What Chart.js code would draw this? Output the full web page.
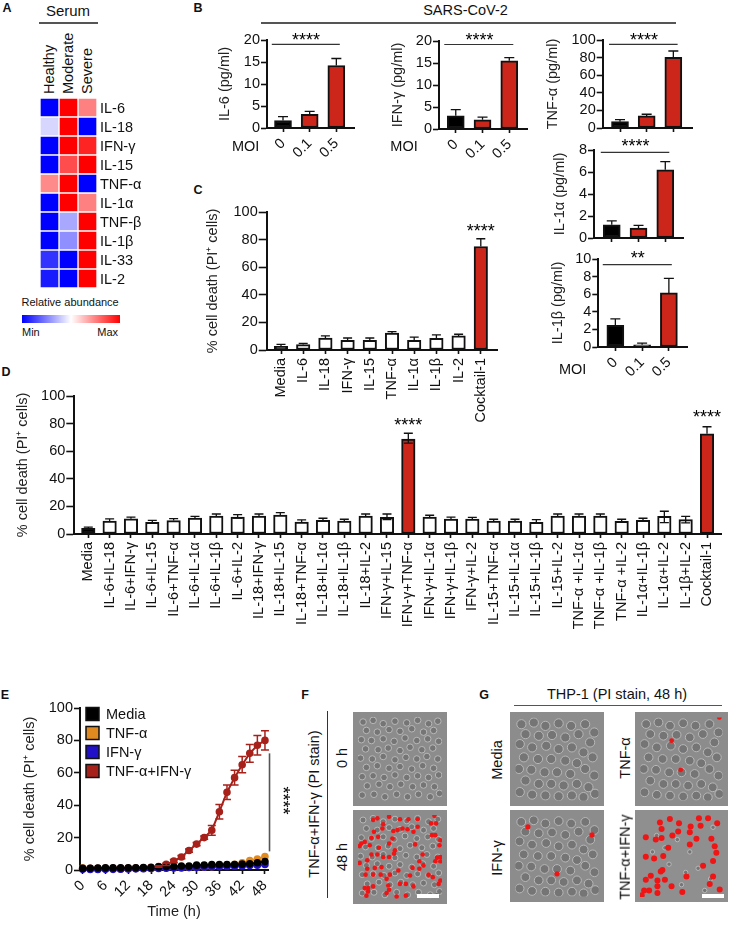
<!DOCTYPE html>
<html><head><meta charset="utf-8">
<script src="https://cdn.jsdelivr.net/npm/chart.js@4"></script>
<style>
html,body{margin:0;padding:0;background:#fff;width:737px;height:928px;overflow:hidden;font-family:"Liberation Sans",Arial,sans-serif;color:#111}
#stage{position:relative;width:737px;height:928px}
canvas{position:absolute;display:block}
.t{position:absolute;white-space:nowrap;line-height:1;font-size:14.5px}
.rule{position:absolute;background:#555}
</style></head><body><div id="stage"></div>
<script>
// ---------- DATA ----------
const heatColumns=['Healthy','Moderate','Severe'];
const heatRows=['IL-6','IL-18','IFN-γ','IL-15','TNF-α','IL-1α','TNF-β','IL-1β','IL-33','IL-2'];
const heatHealthy=[0,0.42,0,0,0.73,0,0,0,0.1,0.05];
const heatModerate=[1,1,1,0.85,1,1,0.33,0.28,0,0];
const heatSevere=[0.75,0,0.93,1,0,0.75,1,1,1,1];

const moi=['0','0.1','0.5'];
const il6Val=[1.7,3.1,14.2], il6Hi=[2.6,3.8,15.8];
const ifnVal=[3.0,2.1,15.5], ifnHi=[4.4,2.7,16.2];
const tnfVal=[7.2,13.7,80.2], tnfHi=[9.5,15.6,87.5];
const il1aVal=[1.2,0.9,6.2], il1aHi=[1.55,1.15,6.95];
const il1bVal=[2.45,0.25,6.15], il1bHi=[3.2,0.45,7.8];

const cLabels=['Media','IL-6','IL-18','IFN-γ','IL-15','TNF-α','IL-1α','IL-1β','IL-2','Cocktail-1'];
const cVal=[2.7,3.9,8.7,7,7,12.3,7,8.5,10.2,75];
const cHi=[4.1,4.8,10.2,8.7,8.7,13.3,9.4,10.9,11.4,80.6];

const dLabels=['Media','IL-6+IL-18','IL-6+IFN-γ','IL-6+IL-15','IL-6+TNF-α','IL-6+IL-1α','IL-6+IL-1β','IL-6+IL-2','IL-18+IFN-γ','IL-18+IL-15','IL-18+TNF-α','IL-18+IL-1α','IL-18+IL-1β','IL-18+IL-2','IFN-γ+IL-15','IFN-γ+TNF-α','IFN-γ+IL-1α','IFN-γ+IL-1β','IFN-γ+IL-2','IL-15+TNF-α','IL-15+IL-1α','IL-15+IL-1β','IL-15+IL-2','TNF-α +IL-1α','TNF-α +IL-1β','TNF-α +IL-2','IL-1α+IL-1β','IL-1α+IL-2','IL-1β+IL-2','Cocktail-1'];
const dVal=[4.1,9.4,11,8.5,9.7,11.6,13,12.3,13,13.8,8.7,9.9,9.4,13,12.1,68.8,12.3,10.9,10.9,9.4,9.4,8.5,13,13,13,9.2,9.9,12.8,10.4,72.6];
const dHi=[5,10.9,12.3,9.9,11.1,12.8,14.5,14,14.5,15.5,10.2,11.4,10.7,14.5,14.5,73,13.6,12.3,12.1,10.7,10.7,10.4,14.5,14.5,14.5,10.7,11.4,16.5,12.8,77.7];
const dLo=[4.1,9.4,11,8.5,9.7,11.6,13,11.5,13,13.8,8.7,9.9,9.4,13,10.5,65.8,12.3,10.9,10.9,9.4,9.4,8.5,13,13,13,9.2,9.9,8.2,8,72.6];

const hours=[0,2,4,6,8,10,12,14,16,18,20,22,24,26,28,30,32,34,36,38,40,42,44,46,48];
const hourTicks=[0,6,12,18,24,30,36,42,48];
const eMedia=[1,1.1,1.2,1.3,1.3,1.3,1.4,1.4,1.5,1.5,1.9,2.1,2.2,2.5,2.4,3,3.1,3.3,3.4,3.4,3.4,3.6,3.8,4.5,5.2];
const eTnf=[1.2,0.8,0.6,0.7,0.6,0.6,1,1,1,1,1.2,1.3,1.5,1.5,1.5,1.6,1.8,2,2.5,3,3.5,4.5,5.8,6.8,8.3];
const eIfn=[0.4,0.3,0.3,0.4,0.4,0.5,0.6,0.7,0.8,0.9,1,1.1,1.2,1.3,1.5,1.6,1.8,2,2.1,2.2,2.3,2.5,2.8,3,3.4];
const eBoth=[1,1,1,1,1,1,1,1.2,1.4,1.7,2.2,3.5,5.5,8,12,16,20,24.5,36,48,57,65,72,77,80];
const eBothErr=[0,0,0,0,0,0,0,0,0,0,0.5,0.7,1,1,1,1,1,3,4.5,4.5,4.5,5,5.5,6,6];

// micrograph marks (percent of image width / height)
const cellsF=[[6,6],[18,4],[30,8],[44,5],[58,7],[71,4],[84,8],[95,5],[10,16],[23,18],[37,15],[50,17],[64,14],[78,18],[90,16],[4,27],[16,28],[30,26],[43,29],[56,25],[70,28],[83,26],[96,29],[9,38],[24,39],[36,37],[50,40],[62,36],[76,39],[89,37],[3,49],[17,50],[30,47],[44,51],[57,48],[70,50],[82,47],[95,50],[10,60],[23,58],[37,61],[50,59],[64,62],[77,58],[90,61],[5,71],[18,70],[31,72],[44,69],[58,72],[71,70],[84,72],[96,69],[11,82],[25,80],[38,83],[51,80],[65,83],[78,81],[91,83],[5,93],[19,92],[32,95],[46,92],[59,95],[72,92],[86,95],[97,91]];
const cellsG=[[7,8],[22,6],[36,10],[52,7],[67,10],[84,8],[95,18],[12,20],[28,22],[44,21],[60,24],[76,20],[90,30],[5,32],[20,36],[37,34],[52,38],[68,36],[82,42],[10,48],[27,50],[43,50],[60,52],[74,55],[93,48],[4,62],[19,63],[35,66],[50,66],[66,68],[84,62],[95,70],[12,76],[28,80],[43,80],[58,82],[74,80],[88,84],[5,90],[20,93],[36,94],[52,95],[68,94],[82,96],[96,92]];
const cellsG4=[[20,25],[45,30],[60,45],[35,60],[70,65],[50,85],[78,92],[88,15],[15,45],[30,40],[55,70],[85,78]];
const redF48=[[23,4],[18,6],[37,2],[50,5],[60,5],[71,5],[91,1],[87,10],[93,10],[30,11],[29,16],[71,14],[19,20],[24,26],[42,19],[47,18],[53,16],[59,17],[66,20],[16,27],[8,32],[4,34],[2,37],[14,36],[37,34],[41,28],[68,35],[97,36],[88,24],[92,24],[98,30],[25,39],[44,42],[43,46],[23,47],[37,50],[16,47],[30,50],[2,57],[11,54],[77,47],[73,55],[94,51],[98,50],[92,55],[98,55],[20,63],[28,62],[11,64],[48,66],[65,63],[78,60],[73,64],[9,71],[18,71],[27,71],[38,71],[62,72],[84,71],[89,74],[98,78],[96,82],[34,76],[8,87],[12,87],[18,85],[36,84],[37,89],[57,82],[66,85],[50,82],[12,91],[57,96],[94,96],[10,96],[46,97],[34,93]];
const redG2=[[96,0],[38,28],[49,63]];
const redG3=[[15,14],[92,24],[50,72]];
const redG4=[[36,5],[47,10],[24,9],[71,4],[82,4],[93,10],[61,14],[73,13],[26,17],[46,20],[60,21],[39,25],[7,27],[26,28],[19,30],[68,29],[86,29],[60,36],[90,38],[34,40],[92,46],[7,51],[17,53],[28,50],[88,56],[76,62],[27,67],[25,69],[13,74],[56,75],[88,75],[7,79],[21,80],[30,79],[21,87],[84,84],[38,87],[5,92],[11,92],[21,95],[51,94],[2,98],[96,91]];

// ---------- HELPERS ----------
const FONT='"Liberation Sans", Arial, sans-serif';
Chart.defaults.font.family=FONT;
Chart.defaults.font.size=14.5;
Chart.defaults.color='#111';
Chart.defaults.animation=false;
const stage=document.getElementById('stage');
const RED='#cb2619';

function txt(s,x,y,o={}){
  const e=document.createElement('div');e.className='t';e.textContent=s;
  e.style.left=x+'px';e.style.top=y+'px';
  const ax=o.left?'0':o.right?'-100%':'-50%';
  e.style.transform=`translate(${ax},-50%)`+(o.rot?` rotate(${o.rot}deg)`:'');
  if(o.size)e.style.fontSize=o.size+'px';
  if(o.bold)e.style.fontWeight='bold';
  if(o.color)e.style.color=o.color;
  stage.appendChild(e);return e;
}
function rule(x0,y0,x1,y1,w=1.5){
  const e=document.createElement('div');e.className='rule';
  e.style.left=x0+'px';e.style.top=(y0-w/2)+'px';e.style.width=(x1-x0)+'px';e.style.height=(y1-y0+w)+'px';
  stage.appendChild(e);
}
function mount(box,m,cfg){
  const c=document.createElement('canvas');
  const w=Math.round(box.r-box.l+m.l+m.r),h=Math.round(box.b-box.t+m.t+m.b);
  c.width=w;c.height=h;c.style.left=(box.l-m.l)+'px';c.style.top=(box.t-m.t)+'px';
  c.style.width=w+'px';c.style.height=h+'px';
  stage.appendChild(c);
  cfg.options=cfg.options||{};
  cfg.options.responsive=false;cfg.options.maintainAspectRatio=false;cfg.options.devicePixelRatio=1;
  cfg.options.layout={padding:{top:m.t,right:m.padR??m.r,left:0,bottom:0}};
  return new Chart(c,cfg);
}
const fixX=(h)=>(s)=>{s.height=h;s.paddingLeft=s.paddingRight=s.paddingTop=s.paddingBottom=0;};
const fixY=(w)=>(s)=>{s.width=w;s.paddingLeft=s.paddingRight=s.paddingTop=s.paddingBottom=0;};

const annot={id:'annot',afterDatasetsDraw(ch,a,o){
  const ctx=ch.ctx,X=ch.scales.x,Y=ch.scales.y;ctx.save();
  ch.data.datasets.forEach((d)=>{
    if(!d.errHi)return;
    d.errHi.forEach((hi,i)=>{
      const v=d.vals[i],lo=d.errLo?d.errLo[i]:v;
      if(hi<=v&&lo>=v)return;
      const x=X.getPixelForValue(d.data[i].x);
      const yh=Y.getPixelForValue(hi),yl=Y.getPixelForValue(lo),cap=d.cap||5;
      ctx.strokeStyle=d.errColor||'#111';ctx.lineWidth=d.errWidth||1.3;ctx.beginPath();
      ctx.moveTo(x,yl);ctx.lineTo(x,yh);
      ctx.moveTo(x-cap,yh);ctx.lineTo(x+cap,yh);
      if(lo<v){ctx.moveTo(x-cap,yl);ctx.lineTo(x+cap,yl);}
      ctx.stroke();
    });
  });
  (o.lines||[]).forEach(l=>{
    ctx.strokeStyle=l.color||'#333';ctx.lineWidth=l.w||1.2;ctx.beginPath();
    ctx.moveTo(X.getPixelForValue(l.x0),Y.getPixelForValue(l.y0));
    ctx.lineTo(X.getPixelForValue(l.x1),Y.getPixelForValue(l.y1));ctx.stroke();
  });
  (o.stars||[]).forEach(s=>{
    ctx.save();ctx.translate(X.getPixelForValue(s.x),Y.getPixelForValue(s.y));
    if(s.rot)ctx.rotate(s.rot);
    ctx.fillStyle='#000';ctx.font='18px '+FONT;ctx.textAlign='center';ctx.textBaseline='middle';
    ctx.fillText(s.text,0,4);ctx.restore();
  });
  ctx.restore();
}};
const keyPlugin={id:'keyBox',afterDraw(ch,a,o){
  if(!o.items)return;
  const ctx=ch.ctx,L=ch.chartArea.left+o.dx,T=ch.chartArea.top+o.dy;ctx.save();
  o.items.forEach((it,i)=>{
    const y=T+i*o.pitch;
    ctx.fillStyle=it.color;ctx.strokeStyle='#111';ctx.lineWidth=1.5;
    ctx.fillRect(L,y,o.size,o.size);ctx.strokeRect(L,y,o.size,o.size);
    ctx.fillStyle='#111';ctx.font='14.5px '+FONT;ctx.textBaseline='middle';ctx.textAlign='left';
    ctx.fillText(it.label,L+o.size+7,y+o.size/2+0.5);
  });ctx.restore();
}};
const photoBg={id:'photoBg',beforeDraw(ch,a,o){
  if(!o.color)return;ch.ctx.save();ch.ctx.fillStyle=o.color;ch.ctx.fillRect(0,0,ch.width,ch.height);ch.ctx.restore();
}};
Chart.register(annot,keyPlugin,photoBg);

function yAxis(max,step,title,tw,titlePad,tl){
  return {type:'linear',min:0,max,position:'left',afterFit:fixY(tw),
    ticks:{stepSize:step,padding:1,color:'#111',font:{size:14.5},autoSkip:false},
    grid:{drawOnChartArea:false,drawTicks:true,tickLength:tl||6,tickColor:'#111',tickWidth:1.6},
    border:{color:'#111',width:2},
    title:{display:true,text:title,color:'#222',font:{size:14.5},padding:{top:titlePad,bottom:0}}};
}
function barChart(box,spacing,firstCenter,labels,vals,hi,lo,colors,o){
  const ml=box.l-o.titleX+12,mb=o.mb;
  const xmin=(box.l-firstCenter)/spacing,xmax=(box.r-firstCenter)/spacing;
  return mount(box,{l:ml,t:o.mt||22,r:o.mr||4,b:mb},{type:'bar',
    data:{datasets:[{data:vals.map((v,i)=>({x:i,y:v})),vals,errHi:hi,errLo:lo,cap:o.cap||5,
      backgroundColor:colors,borderColor:'#111',borderWidth:2,barThickness:o.bw,borderSkipped:false}]},
    options:{
      scales:{
        x:{type:'linear',offset:false,min:xmin,max:xmax,afterFit:fixX(mb),
          afterBuildTicks:(s)=>{s.ticks=labels.map((_,i)=>({value:i}));},
          ticks:{autoSkip:false,minRotation:o.rot,maxRotation:o.rot,padding:o.tickPad??4,color:'#111',font:{size:o.xfont||14.5},
            callback:(v)=>labels[v]},
          grid:{offset:false,drawOnChartArea:false,drawTicks:true,tickLength:4,tickColor:'#111',tickWidth:1.6},
          border:{color:'#111',width:2}},
        y:yAxis(o.max,o.step,o.title,ml,12-8.7,o.tl)
      },
      plugins:{legend:{display:false},tooltip:{enabled:false},annot:{lines:o.lines,stars:o.stars}}
    }});
}
const kkr=['#000',RED,RED];

// ---------- PANEL LETTERS ----------
[['A',7,8],['B',198,8],['C',198,190],['D',6,372],['E',5,695],['F',305,695],['G',484,695]].forEach(p=>txt(p[0],p[1],p[2],{size:12.5,bold:true}));

// ---------- A: HEATMAP ----------
function heatColor(v){
  if(v<0.5){const k=Math.round(v*2*255);return `rgb(${k},${k},255)`;}
  const k=Math.round((1-v)*2*255);return `rgb(255,${k},${k})`;
}
txt('Serum',68,10,{size:15});
rule(39,23,98,23);
mount({l:40,t:97.5,r:97,b:287},{l:0,t:4,r:50,b:0,padR:0},{type:'bar',
  data:{labels:heatRows,datasets:[heatHealthy,heatModerate,heatSevere].map((arr,i)=>({
    label:heatColumns[i],data:arr.map(()=>1),backgroundColor:arr.map(heatColor),
    borderColor:'#fff',borderWidth:1,borderSkipped:false,barPercentage:1,categoryPercentage:1}))},
  options:{indexAxis:'y',
    scales:{
      x:{type:'linear',position:'top',stacked:true,min:0,max:3,afterFit:fixX(0),
        ticks:{display:false},grid:{display:false},border:{display:false}},
      y:{type:'category',position:'right',stacked:true,afterFit:fixY(50),
        ticks:{autoSkip:false,padding:3,labelOffset:1.5,color:'#111',font:{size:14.5}},
        grid:{display:false,tickLength:0},border:{display:false}}
    },
    plugins:{legend:{display:false},tooltip:{enabled:false}}
  }});
heatColumns.forEach((c,i)=>{const e=txt(c,49+i*19,94,{left:true,size:14.5});
  e.style.transformOrigin='0 0';e.style.transform='rotate(-90deg) translateY(-50%)';});
txt('Relative abundance',21.5,302,{left:true,size:11});
const bar=document.createElement('div');
bar.style.cssText='position:absolute;left:22px;top:315px;width:98px;height:8px;background:linear-gradient(90deg,#0000ff,#ffffff 50%,#ff0000)';
stage.appendChild(bar);
txt('Min',22,332,{left:true,size:11});
txt('Max',118,332,{right:true,size:11});

// ---------- B ----------
txt('SARS-CoV-2',465.5,10,{size:14.5});
rule(261,23,676,23);
const bBase={bw:17,rot:45,mb:50,tickPad:3};
barChart({l:267,t:40,r:354,b:128},26.67,283,moi,il6Val,il6Hi,null,kkr,{...bBase,titleX:225,max:20,step:5,title:'IL-6 (pg/ml)',
  lines:[{x0:-0.42,x1:2.13,y0:19,y1:19}],stars:[{x:0.86,y:20.7,text:'****'}]});
barChart({l:439,t:40.7,r:526.7,b:128.7},26.67,455.7,moi,ifnVal,ifnHi,null,kkr,{...bBase,titleX:398,max:20,step:5,title:'IFN-γ (pg/ml)',
  lines:[{x0:-0.43,x1:2.15,y0:19.2,y1:19.2}],stars:[{x:0.89,y:20.8,text:'****'}]});
barChart({l:602.7,t:40,r:692,b:128},26.67,620,moi,tnfVal,tnfHi,null,kkr,{...bBase,mb:6,titleX:553,max:100,step:20,title:'TNF-α (pg/ml)',
  lines:[{x0:-0.41,x1:2.16,y0:95,y1:95}],stars:[{x:0.9,y:103.4,text:'****'}],tickPad:60});
barChart({l:594,t:150,r:682.7,b:237.7},26.67,611.7,moi,il1aVal,il1aHi,null,kkr,{...bBase,mb:6,titleX:560,max:8,step:2,title:'IL-1α (pg/ml)',
  lines:[{x0:-0.41,x1:2.15,y0:7.79,y1:7.79}],stars:[{x:0.89,y:8.6,text:'****'}],tickPad:60});
barChart({l:598.3,t:259.3,r:686.7,b:347.7},26.67,615.3,moi,il1bVal,il1bHi,null,kkr,{...bBase,titleX:558,max:10,step:2,title:'IL-1β (pg/ml)',
  lines:[{x0:-0.47,x1:2.11,y0:9.36,y1:9.36}],stars:[{x:0.84,y:10.4,text:'**'}]});
txt('MOI',245.7,146);txt('MOI',404,146);txt('MOI',572.7,369);

// ---------- C ----------
barChart({l:266.7,t:211.7,r:497,b:349.3},22.2,281,cLabels,cVal,cHi,null,
  cLabels.map((l,i)=>i==0?'#000':i==cLabels.length-1?RED:'#fff'),
  {bw:13.5,rot:90,mb:80,cap:4.5,tl:8,titleX:213,max:100,step:20,title:'% cell death (PI⁺ cells)',tickPad:4,
   stars:[{x:9,y:88.4,text:'****'}]});

// ---------- D ----------
barChart({l:74,t:395.7,r:721,b:533.3},21.345,88,dLabels,dVal,dHi,dLo,
  dLabels.map((l,i)=>i==0?'#000':(i==15||i==29)?RED:'#fff'),
  {bw:13.5,rot:90,mb:100,cap:4.5,tl:8,titleX:22.7,max:100,step:20,title:'% cell death (PI⁺ cells)',tickPad:4,mt:24,mr:8,
   stars:[{x:15,y:81.1,text:'****'},{x:29,y:86.7,text:'****'}]});

// ---------- E ----------
(function(){
  const box={l:80,t:708.3,r:268,b:870},titleX=30,ml=box.l-titleX+12,mb=52;
  const mk=(label,vals,color,order)=>({label,data:vals.map((v,i)=>({x:hours[i],y:v})),vals,
    borderColor:color,backgroundColor:color,pointBackgroundColor:color,pointBorderColor:color,
    pointRadius:2.8,borderWidth:2,order,tension:0,clip:false});
  const both=mk('TNF-α+IFN-γ',eBoth,'#a7211b',3);
  both.errHi=eBoth.map((v,i)=>v+eBothErr[i]);both.errLo=eBoth.map((v,i)=>v-eBothErr[i]);both.cap=4;both.errColor='#a7211b';both.errWidth=1.5;
  mount(box,{l:ml,t:8,r:30,b:mb},{type:'line',
    data:{datasets:[both,mk('TNF-α',eTnf,'#e08a20',2),mk('IFN-γ',eIfn,'#2010c8',1),mk('Media',eMedia,'#000',0)]},
    options:{
      scales:{
        x:{type:'linear',min:-0.7,max:48.8,afterFit:fixX(mb),
          afterBuildTicks:(s)=>{s.ticks=hourTicks.map(v=>({value:v}));},
          ticks:{autoSkip:false,minRotation:45,maxRotation:45,padding:3,color:'#111',font:{size:14.5}},
          grid:{drawOnChartArea:false,drawTicks:true,tickLength:4,tickColor:'#111',tickWidth:1.6},
          border:{color:'#111',width:2},
          title:{display:true,text:'Time (h)',color:'#222',font:{size:14.5},padding:{top:0,bottom:1}}},
        y:yAxis(100,20,'% cell death (PI⁺ cells)',ml,12-8.7)
      },
      plugins:{legend:{display:false},tooltip:{enabled:false},
        annot:{lines:[{x0:49.2,x1:49.2,y0:72,y1:11.5,color:'#555',w:1.6}],stars:[{x:53.4,y:42.9,text:'****',rot:Math.PI/2}]},
        keyBox:{dx:6,dy:-0.5,pitch:19,size:13,items:[{label:'Media',color:'#000'},{label:'TNF-α',color:'#e08a20'},{label:'IFN-γ',color:'#2010c8'},{label:'TNF-α+IFN-γ',color:'#a7211b'}]}}
    }});
})();

// ---------- F, G: MICROGRAPHS ----------
function photo(box,cells,r,reds,redR,bg){
  const pts=a=>a.map(p=>({x:p[0],y:p[1]}));
  const ds=[{data:pts(reds),order:0,pointRadius:redR,pointBackgroundColor:'#f01414',pointBorderColor:'#f01414',pointBorderWidth:0},
            {data:pts(cells),order:1,pointRadius:r,pointBackgroundColor:'#757575',pointBorderColor:'#b8b8b8',pointBorderWidth:1}];
  mount(box,{l:0,t:0,r:0,b:0},{type:'scatter',data:{datasets:ds},options:{
    scales:{x:{type:'linear',min:0,max:100,display:false},y:{type:'linear',min:0,max:100,reverse:true,display:false}},
    plugins:{legend:{display:false},tooltip:{enabled:false},photoBg:{color:bg||'#8c8c8c'}}}});
}
photo({l:353,t:712,r:447,b:806},cellsF,3.3,[],0);
photo({l:353,t:810,r:447,b:904},cellsF,3,redF48,2.3);
photo({l:510,t:712,r:604,b:806},cellsG,4.6,[],0);
photo({l:635,t:712,r:728,b:806},cellsG,4.4,redG2,2.4);
photo({l:510,t:810,r:604,b:902},cellsG,4.4,redG3,2.6);
photo({l:635,t:810,r:728,b:902},cellsG4,2.2,redG4,3,'#8f8f8f');
[[417,896,22],[702,896,22]].forEach(s=>{const e=document.createElement('div');
  e.style.cssText=`position:absolute;left:${s[0]}px;top:${s[1]-2}px;width:${s[2]}px;height:4px;background:#fff`;stage.appendChild(e);});
const rv=document.createElement('div');rv.style.cssText='position:absolute;left:326.5px;top:711px;width:1.4px;height:187px;background:#333';stage.appendChild(rv);
txt('TNF-α+IFN-γ (PI stain)',314,804,{rot:-90});
txt('0 h',341.7,758,{rot:-90});
txt('48 h',341.7,856.7,{rot:-90});
txt('THP-1 (PI stain, 48 h)',617,694);
rule(514,705.3,721.7,705.3,1.3);
txt('Media',497,760,{rot:-90});
txt('IFN-γ',497,858,{rot:-90});
txt('TNF-α',625,758,{rot:-90});
txt('TNF-α+IFN-γ',625,857,{rot:-90});
</script></body></html>
